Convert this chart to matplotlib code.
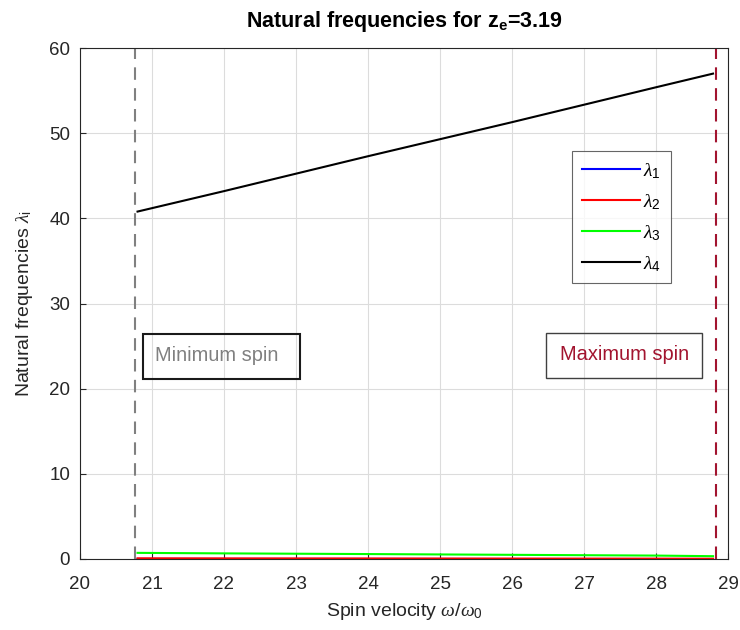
import matplotlib
matplotlib.use("Agg")
import matplotlib.pyplot as plt
from matplotlib.patches import Rectangle

plt.rcParams['font.family'] = ['Liberation Sans', 'DejaVu Sans']
plt.rcParams['mathtext.fontset'] = 'custom'
plt.rcParams['mathtext.rm'] = 'Liberation Sans'
plt.rcParams['mathtext.bf'] = 'Liberation Sans:bold'
plt.rcParams['mathtext.it'] = 'Liberation Serif:italic'

# spin velocity samples and the four natural frequencies
omega = [20.8, 22.0, 24.0, 26.0, 28.0, 28.79]
lam1 = [0.01, 0.01, 0.01, 0.0, 0.0, 0.0]
lam2 = [0.08, 0.07, 0.06, 0.05, 0.04, 0.03]
lam3 = [0.72, 0.66, 0.58, 0.49, 0.40, 0.33]
lam4 = [40.8, 43.2, 47.3, 51.3, 55.4, 57.0]

omega_min = 20.76
omega_max = 28.83
z_e = 3.19

series = [lam1, lam2, lam3, lam4]
labels = [r'$\lambda_1$', r'$\lambda_2$', r'$\lambda_3$', r'$\lambda_4$']
colors = ['#0000FF', '#FF0000', '#00FF00', '#000000']

fig = plt.figure(figsize=(7.4, 6.3), dpi=100)
ax = fig.add_axes([0.108, 0.1127, 0.876, 0.811])

for y, lab, c in zip(series, labels, colors):
    ax.plot(omega, y, color=c, lw=1.5, label=lab)

ax.axvline(omega_min, color='#808080', ls=(0, (6, 4)), lw=1.5)
ax.axvline(omega_max, color='#A2142F', ls=(0, (6, 4)), lw=1.5)

ax.set_xlim(20, 29)
ax.set_ylim(0, 60)
ax.set_xticks(range(20, 30))
ax.set_yticks(range(0, 61, 10))
ax.grid(True, color='#DCDCDC', lw=0.8)
ax.set_axisbelow(True)
ax.tick_params(direction='in', length=4, labelsize=13.5, colors='#262626',
               top=False, right=False)
ax.tick_params(axis='x', pad=12)
ax.tick_params(axis='y', pad=7)
for s in ax.spines.values():
    s.set_color('#262626')
    s.set_linewidth(0.8)

ax.set_xlabel(r'Spin velocity $\omega/\omega_0$', fontsize=14, color='#262626',
              labelpad=6)
ax.set_ylabel(r'Natural frequencies $\lambda_\mathrm{i}$', fontsize=14,
              color='#262626', labelpad=10)
ax.set_title(r'Natural frequencies for $\mathbf{z_e}$=' + f'{z_e:.2f}',
             fontsize=15.5, fontweight='bold', pad=15)

# annotation boxes for the spin limits
ax.add_patch(Rectangle((20.875, 21.1), 2.185, 5.3, fill=False, ec='#1a1a1a', lw=1.5))
ax.text(21.04, 23.9, 'Minimum spin', color='#808080', fontsize=14.4,
        ha='left', va='center')
ax.add_patch(Rectangle((26.47, 21.3), 2.17, 5.2, fill=False, ec='#404040', lw=1.0))
ax.text(27.555, 24.0, 'Maximum spin', color='#A2142F', fontsize=14.4,
        ha='center', va='center')

leg = ax.legend(loc='upper left', bbox_to_anchor=(0.759, 0.798), fontsize=14,
                frameon=True, fancybox=False, edgecolor='#404040',
                handlelength=3.0, borderpad=0.5, labelspacing=0.58,
                handletextpad=0.15, borderaxespad=0)
leg.get_frame().set_linewidth(0.8)

fig.savefig('out.png', dpi=100)
